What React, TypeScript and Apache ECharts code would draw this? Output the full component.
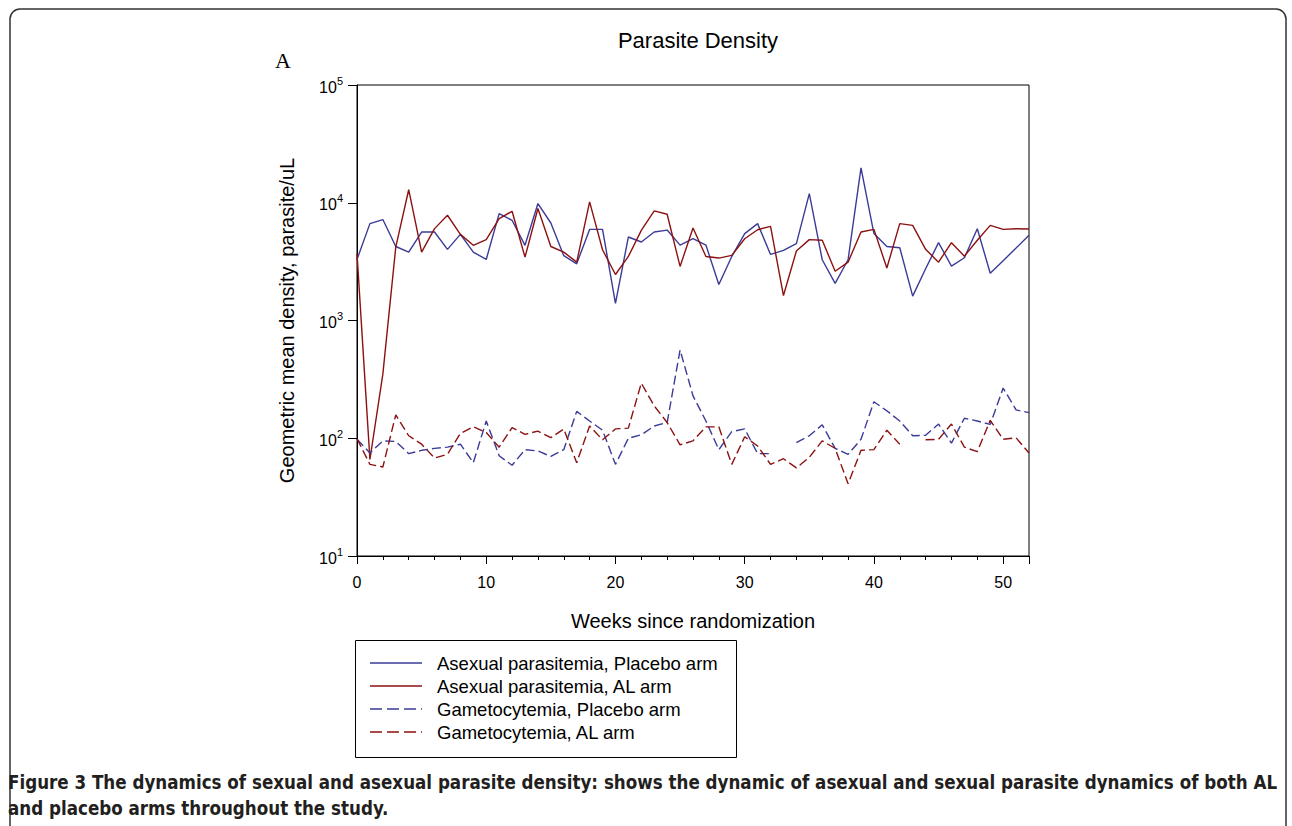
import React, { useEffect, useRef } from "react";
import * as echarts from "echarts";

const weeks: number[] = Array.from({ length: 53 }, (_, i) => i);

const asexualPlacebo: (number | null)[] = [
  3300, 6650, 7200, 4250, 3800, 5640, 5640, 4020, 5390, 3810,
  3300, 8090, 7100, 4350, 9840, 6730, 3550, 3030, 5940, 5940,
  1400, 5120, 4640, 5640, 5860, 4370, 4950, 4370, 2020, 3500,
  5470, 6650, 3640, 3940, 4490, 11970, 3280, 2070, 3280, 19800,
  5470, 4250, 4150, 1610, 2750, 4580, 2900, 3410, 6020, 2520,
  3220, 4120, 5290,
];

const asexualAL: (number | null)[] = [
  3700, 66, 350, 4200, 12900, 3810, 6030, 7830, 5390, 4350,
  4860, 7330, 8470, 3450, 8940, 4250, 3810, 3130, 10160, 3990,
  2460, 3500, 5830, 8520, 7980, 2880, 6100, 3500, 3390, 3570,
  4950, 5900, 6300, 1630, 3890, 4860, 4800, 2620, 3130, 5640,
  5940, 2790, 6650, 6430, 4020, 3130, 4580, 3520, 4800, 6430,
  5940, 6020, 5990,
];

const gametoPlacebo: (number | null)[] = [
  98, 75, 95, 94, 74, 79, 82, 84, 89, 62,
  140, 71, 59, 80, 78, 70, 80, 169, 140, 117,
  60, 100, 107, 127, 136, 562, 229, 140, 80, 114,
  120, 74, 74, null, 92, 105, 130, 82, 73, 98,
  204, 171, 140, 105, 106, 132, 91, 148, 140, 131,
  267, 174, 165,
];

const gametoAL: (number | null)[] = [
  99, 60, 57, 158, 105, 89, 68, 73, 110, 125,
  112, 84, 123, 108, 115, 101, 120, 62, 127, 97,
  120, 122, 294, 188, 136, 88, 95, 125, 125, 60,
  103, 86, 60, 67, 56, 69, 95, 82, 41, 79,
  80, 117, 89, null, 97, 98, 132, 84, 77, 142,
  98, 101, 75,
];

const seriesNames: string[] = [
  "Asexual parasitemia, Placebo arm",
  "Asexual parasitemia, AL arm",
  "Gametocytemia, Placebo arm",
  "Gametocytemia, AL arm",
];

const BLUE = "#3b3b98";
const RED = "#8c1111";
const seriesColors: string[] = [BLUE, RED, BLUE, RED];
const seriesDashed: boolean[] = [false, false, true, true];

const captionLine1 =
  "Figure 3 The dynamics of sexual and asexual parasite density: shows the dynamic of asexual and sexual parasite dynamics of both AL";
const captionLine2 = "and placebo arms throughout the study.";

function pairs(vals: (number | null)[]) {
  return weeks.map((w, i) => [w, vals[i] === null ? null : vals[i]]);
}

export default function App() {
  const ref = useRef<HTMLDivElement>(null);
  useEffect(() => {
    if (!ref.current) return;
    const chart = echarts.init(ref.current, undefined, { renderer: "svg" });
    const font = "'Liberation Sans', Arial, sans-serif";
    const captionFont = "'Liberation Sans Narrow', 'DejaVu Sans Condensed', 'Roboto', sans-serif";
    const mk = (name: string, vals: (number | null)[], color: string, dashed: boolean) => ({
      name,
      type: "line",
      data: pairs(vals),
      symbol: "none",
      connectNulls: false,
      lineStyle: { color, width: 1.4, type: dashed ? [9, 4] : "solid" },
      itemStyle: { color },
    });

    const legendGraphics: any[] = [];
    seriesNames.forEach((name, i) => {
      const yc = 663 + i * 23;
      legendGraphics.push({
        type: "line",
        shape: { x1: 370, y1: yc, x2: 422, y2: yc },
        style: {
          stroke: seriesColors[i],
          lineWidth: 1.4,
          lineDash: seriesDashed[i] ? [12, 5] : null,
        },
        silent: true,
      });
      legendGraphics.push({
        type: "text",
        x: 437,
        y: yc,
        style: {
          text: name,
          fontFamily: font,
          fontSize: 18.5,
          fill: "#000",
          textVerticalAlign: "middle",
        },
        silent: true,
      });
    });

    chart.setOption({
      animation: false,
      backgroundColor: "#ffffff",
      title: {
        text: "Parasite Density",
        left: 693,
        top: 24,
        textAlign: "center",
        textStyle: { fontFamily: font, fontSize: 22, fontWeight: "normal", color: "#000" },
      },
      grid: {
        left: 357,
        top: 85,
        width: 672,
        height: 471,
        show: true,
        borderColor: "#000",
        borderWidth: 1,
        backgroundColor: "transparent",
      },
      xAxis: {
        type: "value",
        min: 0,
        max: 52,
        interval: 10,
        name: "Weeks since randomization",
        nameLocation: "middle",
        nameGap: 55,
        nameTextStyle: { fontFamily: font, fontSize: 20, color: "#000" },
        axisLine: { show: true, lineStyle: { color: "#000", width: 1 } },
        axisTick: { show: true, length: 8, lineStyle: { color: "#000" } },
        minorTick: { show: true, splitNumber: 5, length: 4, lineStyle: { color: "#000" } },
        axisLabel: {
          margin: 18,
          fontFamily: font,
          fontSize: 16,
          color: "#000",
          showMaxLabel: false,
        },
        splitLine: { show: false },
      },
      yAxis: {
        type: "log",
        logBase: 10,
        min: 10,
        max: 100000,
        name: "Geometric mean density, parasite/uL",
        nameLocation: "middle",
        nameGap: 60,
        nameTextStyle: { fontFamily: font, fontSize: 20, color: "#000" },
        axisLine: { show: true, lineStyle: { color: "#000", width: 1 } },
        axisTick: { show: true, length: 9, lineStyle: { color: "#000" } },
        axisLabel: {
          margin: 14,
          color: "#000",
          formatter: (v: number) => {
            const e = Math.round(Math.log10(v));
            return "{b|10}{s|" + e + "}";
          },
          rich: {
            b: { fontFamily: font, fontSize: 16, color: "#000", lineHeight: 20, verticalAlign: "bottom" },
            s: { fontFamily: font, fontSize: 11, color: "#000", lineHeight: 20, verticalAlign: "top", padding: [0, 0, 8, 0] },
          },
        },
        splitLine: { show: false },
      },
      graphic: [
        {
          type: "rect",
          shape: { x: 10, y: 9, width: 1276, height: 840, r: 10 },
          style: { fill: "none", stroke: "#333", lineWidth: 1.5 },
          silent: true,
          z: -10,
        },
        {
          type: "text",
          x: 283,
          y: 60,
          style: {
            text: "A",
            fontFamily: "'Liberation Serif', 'Times New Roman', serif",
            fontSize: 22,
            fill: "#000",
            textAlign: "center",
            textVerticalAlign: "middle",
          },
        },
        {
          type: "rect",
          shape: { x: 355.5, y: 640.5, width: 381, height: 117 },
          style: { fill: "none", stroke: "#000", lineWidth: 1 },
          silent: true,
        },
        ...legendGraphics,
        {
          type: "text",
          x: 8,
          y: 782,
          style: {
            text: captionLine1,
            fontFamily: captionFont,
            fontWeight: "bold",
            fontSize: 18.6,
            fill: "#231f20",
            textVerticalAlign: "middle",
          },
        },
        {
          type: "text",
          x: 8,
          y: 808,
          style: {
            text: captionLine2,
            fontFamily: captionFont,
            fontWeight: "bold",
            fontSize: 18.6,
            fill: "#231f20",
            textVerticalAlign: "middle",
          },
        },
      ],
      series: [
        mk(seriesNames[0], asexualPlacebo, BLUE, false),
        mk(seriesNames[1], asexualAL, RED, false),
        mk(seriesNames[2], gametoPlacebo, BLUE, true),
        mk(seriesNames[3], gametoAL, RED, true),
      ],
    });
    return () => chart.dispose();
  }, []);
  return (
    <div
      ref={ref}
      style={{ position: "fixed", left: 0, top: 0, width: 1292, height: 826, background: "#fff" }}
    />
  );
}
